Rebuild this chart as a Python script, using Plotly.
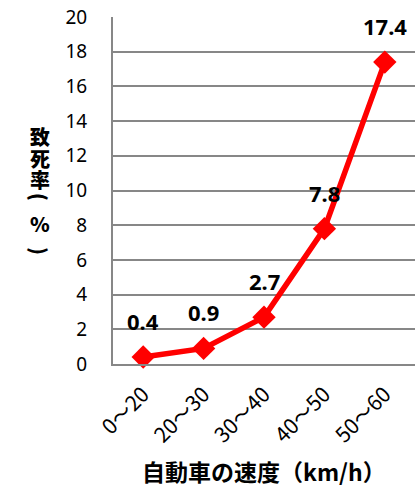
import plotly.graph_objects as go

categories = ["0～20", "20～30", "30～40", "40～50", "50～60"]
values = [0.4, 0.9, 2.7, 7.8, 17.4]
labels = ["0.4", "0.9", "2.7", "7.8", "17.4"]
y_ticks = list(range(0, 21, 2))

NUM_FONT = "Noto Sans, Noto Sans CJK JP"
CJK_FONT = "Noto Sans CJK JP"

fig = go.Figure()
fig.add_trace(go.Scatter(
    x=categories, y=values, mode="lines+markers",
    line=dict(color="#ff0000", width=5.5),
    marker=dict(symbol="diamond", size=18, color="#ff0000"),
    cliponaxis=False, showlegend=False, hoverinfo="skip",
))

for c, v, t in zip(categories, values, labels):
    fig.add_annotation(x=c, y=v, text=f"<b>{t}</b>", showarrow=False,
                       yshift=36, font=dict(family=NUM_FONT, size=22, color="#000"))

fig.add_annotation(xref="paper", yref="paper", x=0.5, y=-0.309,
                   text="<b>自動車の速度（km/h）</b>", showarrow=False,
                   yanchor="middle", xanchor="center",
                   font=dict(family=CJK_FONT, size=23, color="#000"))

def px(xp, yp):
    return (xp - 113) / 302, (364 - yp) / 347

# vertical y-axis title, stacked characters (parentheses turned sideways)
ytitle_chars = [("致", 136, 0, 20), ("死", 158, 0, 20), ("率", 179, 0, 20),
                ("(", 197, 90, 20), ("%", 223, 0, 20), (")", 251, 90, 20)]
for ch, ypx, ang, fs in ytitle_chars:
    xx, yy = px(40, ypx)
    fig.add_annotation(xref="paper", yref="paper", x=xx, y=yy,
                       text=ch, showarrow=False, textangle=ang,
                       xanchor="center", yanchor="middle",
                       font=dict(family=CJK_FONT, size=fs, color="#000", weight=900))

fig.update_layout(
    width=416, height=487,
    margin=dict(l=113, r=1, t=17, b=123),
    plot_bgcolor="white", paper_bgcolor="white",
    xaxis=dict(type="category", range=[-0.5, 4.5], tickangle=-45,
               showgrid=False, showline=True, linecolor="#878787", linewidth=2,
               ticks="", ticklabelstandoff=8,
               tickfont=dict(family=CJK_FONT, size=21, color="#000")),
    yaxis=dict(range=[0, 20], tickvals=y_ticks, showgrid=True,
               gridcolor="#878787", gridwidth=2, showline=True,
               linecolor="#878787", linewidth=2, zeroline=False, ticks="",
               ticklabelstandoff=20,
               tickfont=dict(family=NUM_FONT, size=19, color="#000")),
)

fig.write_html("out.html")
